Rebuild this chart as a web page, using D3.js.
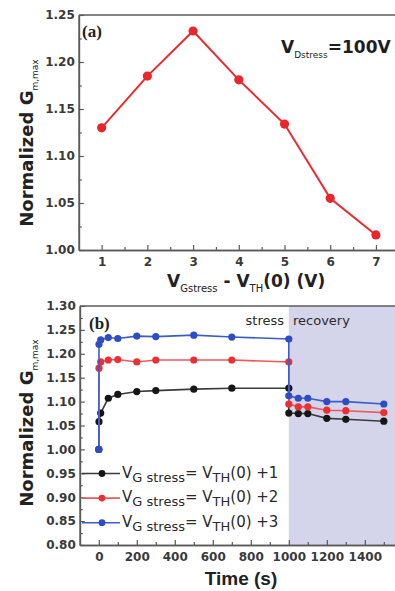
<!DOCTYPE html>
<html>
<head>
<meta charset="utf-8">
<script src="https://cdn.jsdelivr.net/npm/d3@7/dist/d3.min.js"></script>
<style>
body { margin: 0; background: #fff; }
svg { display: block; }
</style>
</head>
<body>
<svg id="fig" width="395" height="591"></svg>
<script>
// panel (a): normalized Gm,max vs gate overdrive
var overdrive = [1, 2, 3, 4, 5, 6, 7];
var gmPeak = [1.130, 1.185, 1.233, 1.181, 1.134, 1.055, 1.016];
var xTicksA = [1, 2, 3, 4, 5, 6, 7];
var yTicksA = [1.00, 1.05, 1.10, 1.15, 1.20, 1.25];

// panel (b): stress up to 1000 s, then recovery
var timeS = [0, 1, 10, 50, 100, 200, 300, 500, 700, 1000, 1000, 1050, 1100, 1200, 1300, 1500];
var gmPlus1 = [1.00, 1.058, 1.076, 1.107, 1.115, 1.121, 1.123, 1.126, 1.128, 1.128, 1.076, 1.075, 1.075, 1.065, 1.063, 1.059];
var gmPlus2 = [1.00, 1.170, 1.183, 1.187, 1.188, 1.183, 1.187, 1.187, 1.187, 1.183, 1.095, 1.089, 1.089, 1.082, 1.081, 1.077];
var gmPlus3 = [1.00, 1.220, 1.229, 1.234, 1.232, 1.237, 1.236, 1.239, 1.235, 1.231, 1.112, 1.107, 1.107, 1.100, 1.100, 1.095];
var seriesTags = ["+1", "+2", "+3"];
var seriesColors = ["#161616", "#ec2f35", "#2c4dc6"];
var lineColors = ["#3a3a3a", "#f0585c", "#3d5ccc"];
var xTicksB = [0, 200, 400, 600, 800, 1000, 1200, 1400];
var yTicksB = [0.80, 0.85, 0.90, 0.95, 1.00, 1.05, 1.10, 1.15, 1.20, 1.25, 1.30];
var recoveryStart = 1000;

var svg = d3.select("#fig");
var tickFont = "DejaVu Sans, Verdana, sans-serif";
var axisGray = "#5a5a5a";

var styleAxis = function(g) {
	g.select(".domain").attr("stroke", axisGray).attr("stroke-width", 1.6);
	g.selectAll(".tick line").attr("stroke", axisGray).attr("stroke-width", 1.2);
	g.selectAll(".tick text")
		.attr("font-family", tickFont)
		.attr("font-weight", "bold")
		.attr("font-size", 12)
		.attr("fill", "#3a3a3a");
};

var minorBetween = function(ticks) {
	var out = [];
	for (var i = 0; i < ticks.length - 1; i++) { out.push((ticks[i] + ticks[i + 1]) / 2); }
	return out;
};

// ---------- panel (a) ----------
var xA = d3.scaleLinear().domain([0.5, 7.5]).range([78.8, 398.8]);
var yA = d3.scaleLinear().domain([1.0, 1.25]).range([250, 15]);

var gA = svg.append("g");

gA.append("line")
	.attr("x1", xA(0.5)).attr("x2", 395)
	.attr("y1", yA(1.25)).attr("y2", yA(1.25))
	.attr("stroke", axisGray).attr("stroke-width", 1.6);

gA.append("g")
	.attr("transform", "translate(" + xA(0.5) + ",0)")
	.call(d3.axisLeft(yA).tickValues(minorBetween(yTicksA)).tickSize(-3).tickSizeOuter(0).tickFormat(""))
	.call(styleAxis);
gA.append("g")
	.attr("transform", "translate(" + xA(0.5) + ",0)")
	.call(d3.axisLeft(yA).tickValues(yTicksA).tickSize(-5).tickSizeOuter(0).tickPadding(4).tickFormat(d3.format(".2f")))
	.call(styleAxis);

gA.append("g")
	.attr("transform", "translate(0," + yA(1.0) + ")")
	.call(d3.axisBottom(xA).tickValues(minorBetween(xTicksA)).tickSize(-3).tickSizeOuter(0).tickFormat(""))
	.call(styleAxis);
gA.append("g")
	.attr("transform", "translate(0," + yA(1.0) + ")")
	.call(d3.axisBottom(xA).tickValues(xTicksA).tickSize(-5).tickSizeOuter(0).tickPadding(7).tickFormat(d3.format("d")))
	.call(styleAxis);

var peakPts = overdrive.map(function(v, i) { return [v, gmPeak[i]]; });
gA.append("path")
	.datum(peakPts)
	.attr("fill", "none")
	.attr("stroke", "#ea2a30")
	.attr("stroke-width", 2)
	.attr("d", d3.line().x(function(d) { return xA(d[0]); }).y(function(d) { return yA(d[1]); }));
gA.selectAll("circle.pk")
	.data(peakPts)
	.enter()
	.append("circle")
	.classed("pk", true)
	.attr("cx", function(d) { return xA(d[0]); })
	.attr("cy", function(d) { return yA(d[1]); })
	.attr("r", 4.6)
	.attr("fill", "#e8262c");

gA.append("text")
	.attr("x", 82).attr("y", 37)
	.attr("font-family", "Liberation Serif, Times New Roman, serif")
	.attr("font-weight", "bold").attr("font-size", 17).attr("fill", "#222")
	.text("(a)");

var vd = gA.append("text")
	.attr("x", 281).attr("y", 53)
	.attr("font-family", tickFont).attr("font-weight", "bold").attr("font-size", 17).attr("fill", "#1e1e1e");
vd.append("tspan").text("V");
vd.append("tspan").attr("dy", 5).attr("font-size", 9).attr("font-weight", "normal").text("Dstress");
vd.append("tspan").attr("dy", -5).text("=100V");

var xtA = gA.append("text")
	.attr("x", 167).attr("y", 287)
	.attr("font-family", tickFont).attr("font-weight", "bold").attr("font-size", 17).attr("fill", "#222");
xtA.append("tspan").text("V");
xtA.append("tspan").attr("dy", 5).attr("font-size", 10).attr("font-weight", "normal").text("Gstress");
xtA.append("tspan").attr("dy", -5).text(" - V");
xtA.append("tspan").attr("dy", 5).attr("font-size", 10).attr("font-weight", "normal").text("TH");
xtA.append("tspan").attr("dy", -5).text("(0) (V)");

var yTitle = function(g, cx, cy) {
	var t = g.append("text")
		.attr("transform", "translate(" + cx + "," + cy + ") rotate(-90)")
		.attr("text-anchor", "middle")
		.attr("font-family", tickFont).attr("font-weight", "bold").attr("font-size", 18).attr("fill", "#222");
	t.append("tspan").text("Normalized G");
	t.append("tspan").attr("dy", 5).attr("font-size", 9).attr("font-weight", "normal").text("m,max");
};
yTitle(gA, 33, 143);

// ---------- panel (b) ----------
var xB = d3.scaleLinear().domain([-100, 1600]).range([79.8, 402.8]);
var yB = d3.scaleLinear().domain([0.8, 1.3]).range([545, 306]);

var gB = svg.append("g");

gB.append("rect")
	.attr("x", xB(recoveryStart)).attr("y", yB(1.3))
	.attr("width", 395 - xB(recoveryStart)).attr("height", yB(0.8) - yB(1.3))
	.attr("fill", "#d4d5ea");

gB.append("line")
	.attr("x1", xB(-100)).attr("x2", 395)
	.attr("y1", yB(1.3)).attr("y2", yB(1.3))
	.attr("stroke", axisGray).attr("stroke-width", 1.6);

gB.append("g")
	.attr("transform", "translate(" + xB(-100) + ",0)")
	.call(d3.axisLeft(yB).tickValues(minorBetween(yTicksB)).tickSize(-3).tickSizeOuter(0).tickFormat(""))
	.call(styleAxis);
gB.append("g")
	.attr("transform", "translate(" + xB(-100) + ",0)")
	.call(d3.axisLeft(yB).tickValues(yTicksB).tickSize(-5).tickSizeOuter(0).tickPadding(4).tickFormat(d3.format(".2f")))
	.call(styleAxis);

gB.append("g")
	.attr("transform", "translate(0," + yB(0.8) + ")")
	.call(d3.axisBottom(xB).tickValues(minorBetween(xTicksB.concat([1600]))).tickSize(-3).tickSizeOuter(0).tickFormat(""))
	.call(styleAxis);
gB.append("g")
	.attr("transform", "translate(0," + yB(0.8) + ")")
	.call(d3.axisBottom(xB).tickValues(xTicksB).tickSize(-5).tickSizeOuter(0).tickPadding(7).tickFormat(d3.format("d")))
	.call(styleAxis);

var seriesB = [gmPlus1, gmPlus2, gmPlus3].map(function(vals, k) {
	return {
		tag: seriesTags[k],
		color: seriesColors[k],
		lineColor: lineColors[k],
		pts: timeS.map(function(t, i) { return [t, vals[i]]; })
	};
});

var lineB = d3.line().x(function(d) { return xB(d[0]); }).y(function(d) { return yB(d[1]); });

seriesB.forEach(function(s) {
	var g = gB.append("g");
	g.append("path")
		.datum(s.pts)
		.attr("fill", "none")
		.attr("stroke", s.lineColor)
		.attr("stroke-width", 1.6)
		.attr("d", lineB);
	g.selectAll("circle")
		.data(s.pts)
		.enter()
		.append("circle")
		.attr("cx", function(d) { return xB(d[0]); })
		.attr("cy", function(d) { return yB(d[1]); })
		.attr("r", 3.6)
		.attr("fill", s.color);
});

gB.append("text")
	.attr("x", 89).attr("y", 329)
	.attr("font-family", "Liberation Serif, Times New Roman, serif")
	.attr("font-weight", "bold").attr("font-size", 17).attr("fill", "#222")
	.text("(b)");

gB.append("text")
	.attr("x", 284).attr("y", 325).attr("text-anchor", "end")
	.attr("font-family", tickFont).attr("font-size", 13).attr("fill", "#2a2a2a")
	.text("stress");
gB.append("text")
	.attr("x", 293).attr("y", 325)
	.attr("font-family", tickFont).attr("font-size", 13).attr("fill", "#2a2a2a")
	.text("recovery");

// legend
var legend = gB.selectAll("g.leg")
	.data(seriesB)
	.enter()
	.append("g")
	.classed("leg", true)
	.attr("transform", function(d, i) { return "translate(0," + (473.5 + i * 24.6) + ")"; });
legend.append("line")
	.attr("x1", 82).attr("x2", 120)
	.attr("stroke", function(d) { return d.lineColor; })
	.attr("stroke-width", 1.6);
legend.append("circle")
	.attr("cx", 102).attr("r", 3.4)
	.attr("fill", function(d) { return d.color; });
var legText = legend.append("text")
	.attr("x", 122).attr("y", 4)
	.attr("font-family", tickFont).attr("font-size", 15).attr("fill", "#2a2a2a");
legText.append("tspan").text("V");
legText.append("tspan").attr("dy", 4).attr("font-size", 13).text("G stress");
legText.append("tspan").attr("dy", -4).text("= V");
legText.append("tspan").attr("dy", 4).attr("font-size", 13).text("TH");
legText.append("tspan").attr("dy", -4).text(function(d) { return "(0) " + d.tag; });

svg.append("text")
	.attr("x", 241).attr("y", 585).attr("text-anchor", "middle")
	.attr("font-family", "Liberation Sans, Arial, sans-serif")
	.attr("font-weight", "bold").attr("font-size", 19).attr("fill", "#222")
	.text("Time (s)");

yTitle(gB, 33, 423);
</script>
</body>
</html>
